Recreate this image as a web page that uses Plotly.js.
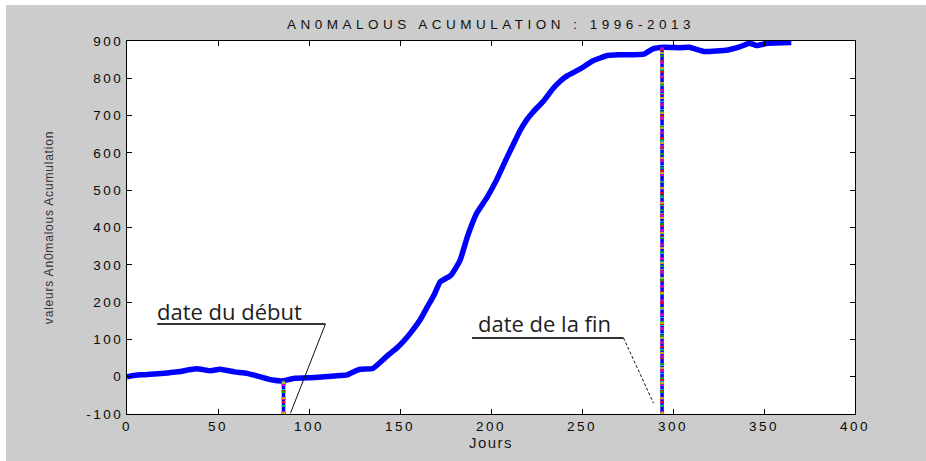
<!DOCTYPE html>
<html>
<head>
<meta charset="utf-8">
<script src="https://cdn.plot.ly/plotly-3.0.1.min.js"></script>
<style>
  html, body { margin: 0; padding: 0; background: #ffffff; }
  #chart { position: absolute; left: 6px; top: 5px; width: 920px; height: 456px; }
  .gtitle { letter-spacing: 4.5px; }
  .xtick text, .ytick text { letter-spacing: 2.5px; }
  .ytitle { letter-spacing: 0.8px; }
  .xtitle { letter-spacing: 1.5px; }
</style>
</head>
<body>
<div id="chart"></div>
<script>
// ---- data ----
const days = [0, 7, 15, 28, 38, 46, 51, 59, 66, 73, 80, 86, 92, 103, 114, 121, 125, 128, 135, 139, 143, 148, 151, 157, 161, 165, 169, 172, 178, 183, 187, 192, 198, 203, 209, 212, 216, 220, 223, 229, 234, 238, 242, 249, 256, 264, 271, 284, 289, 295, 304, 309, 317, 330, 337, 342, 346, 352, 365];
const accumulation = [0, 5, 7, 13, 21, 16, 20, 13, 9, 0, -9, -11, -4, -2, 2, 5, 14, 20, 22, 38, 56, 76, 90, 125, 152, 187, 222, 254, 272, 312, 375, 437, 482, 527, 590, 620, 660, 691, 709, 740, 772, 792, 807, 825, 847, 861, 863, 865, 879, 883, 882, 883, 872, 876, 885, 894, 888, 894, 896];

const startDay = 86, startValue = -11;
const endDay = 294, endValue = 883;
const yBottom = -100;

const xTicks = [0, 50, 100, 150, 200, 250, 300, 350, 400];
const yTicks = [-100, 0, 100, 200, 300, 400, 500, 600, 700, 800, 900];

const labelStart = "date du début";
const labelEnd = "date de la fin";

// callout geometry (data units)
const startCallout = { textX: 15.4, textY: 176, lineX0: 16.6, lineX1: 109, lineY: 141, tipX: 89.8, tipY: -98 };
const endCallout = { textX: 191.8, textY: 145, lineX0: 189.6, lineX1: 272.8, lineY: 104, tipX: 289.3, tipY: -71 };

// ---- traces ----
const traces = [{
  x: days, y: accumulation, type: 'scatter', mode: 'lines',
  line: { color: '#0000ff', width: 5.5, shape: 'spline', smoothing: 0.4 }, showlegend: false, hoverinfo: 'skip'
}];

const stripe = [
  { color: '#0000ff', dash: 'solid' },
  { color: '#ff0000', dash: '2px,9px' },
  { color: '#00b000', dash: '2px,5px' },
  { color: '#00c8c8', dash: '1px,7px' },
  { color: '#d000d0', dash: '3px,11px' },
  { color: '#c8b400', dash: '2px,13px' }
];
[[startDay, startValue], [endDay, endValue]].forEach(([d, v]) => {
  stripe.forEach(s => traces.push({
    x: [d, d], y: [yBottom, v], type: 'scatter', mode: 'lines',
    line: { color: s.color, width: 3.5, dash: s.dash }, showlegend: false, hoverinfo: 'skip'
  }));
});

const shapes = [];
[[startCallout, 'solid'], [endCallout, '3px,2px']].forEach(([c, d]) => {
  shapes.push({ type: 'line', xref: 'x', yref: 'y', x0: c.lineX0, x1: c.lineX1, y0: c.lineY, y1: c.lineY,
    line: { color: '#333333', width: 2 } });
  shapes.push({ type: 'line', xref: 'x', yref: 'y', x0: c.lineX1, x1: c.tipX, y0: c.lineY, y1: c.tipY,
    line: { color: '#111111', width: 1, dash: d } });
});

const calloutFont = { family: 'Open Sans, sans-serif', size: 22, color: '#1e1e1e' };
const annotations = [
  { text: labelStart, x: startCallout.textX, y: startCallout.textY, xref: 'x', yref: 'y',
    xanchor: 'left', yanchor: 'middle', showarrow: false, font: calloutFont },
  { text: labelEnd, x: endCallout.textX, y: endCallout.textY, xref: 'x', yref: 'y',
    xanchor: 'left', yanchor: 'middle', showarrow: false, font: calloutFont }
];

const axisFont = { family: 'Liberation Sans, Arial, sans-serif', size: 13.5, color: '#0a0a0a' };

const layout = {
  width: 920, height: 456,
  paper_bgcolor: '#cccccc', plot_bgcolor: '#ffffff',
  margin: { l: 120.5, r: 71, t: 36, b: 47 },
  title: { text: 'AN0MALOUS ACUMULATION : 1996-2013', x: 0.5, xref: 'paper', xanchor: 'center',
    y: 0.958, yref: 'container', yanchor: 'middle',
    font: { family: 'Liberation Sans, Arial, sans-serif', size: 13.5, color: '#111111' } },
  xaxis: {
    range: [0, 400], tickvals: xTicks, ticktext: xTicks.map(String),
    ticks: 'inside', ticklen: 5, tickcolor: '#000', tickwidth: 1,
    showline: true, linecolor: '#000', linewidth: 1, mirror: 'ticks',
    showgrid: false, zeroline: false, tickfont: axisFont,
    title: { text: 'Jours', font: { family: 'Liberation Sans, Arial, sans-serif', size: 15, color: '#1a1a1a' }, standoff: 3 }
  },
  yaxis: {
    range: [-100, 900], tickvals: yTicks, ticktext: yTicks.map(String),
    ticks: 'inside', ticklen: 5, tickcolor: '#000', tickwidth: 1,
    showline: true, linecolor: '#000', linewidth: 1, mirror: 'ticks',
    showgrid: false, zeroline: false, tickfont: axisFont,
    title: { text: 'valeurs An0malous Acumulation', font: { family: 'Liberation Sans, Arial, sans-serif', size: 12, color: '#333333' }, standoff: 30 }
  },
  shapes: shapes,
  annotations: annotations
};

Plotly.newPlot('chart', traces, layout, { displayModeBar: false, staticPlot: true });
</script>
</body>
</html>
